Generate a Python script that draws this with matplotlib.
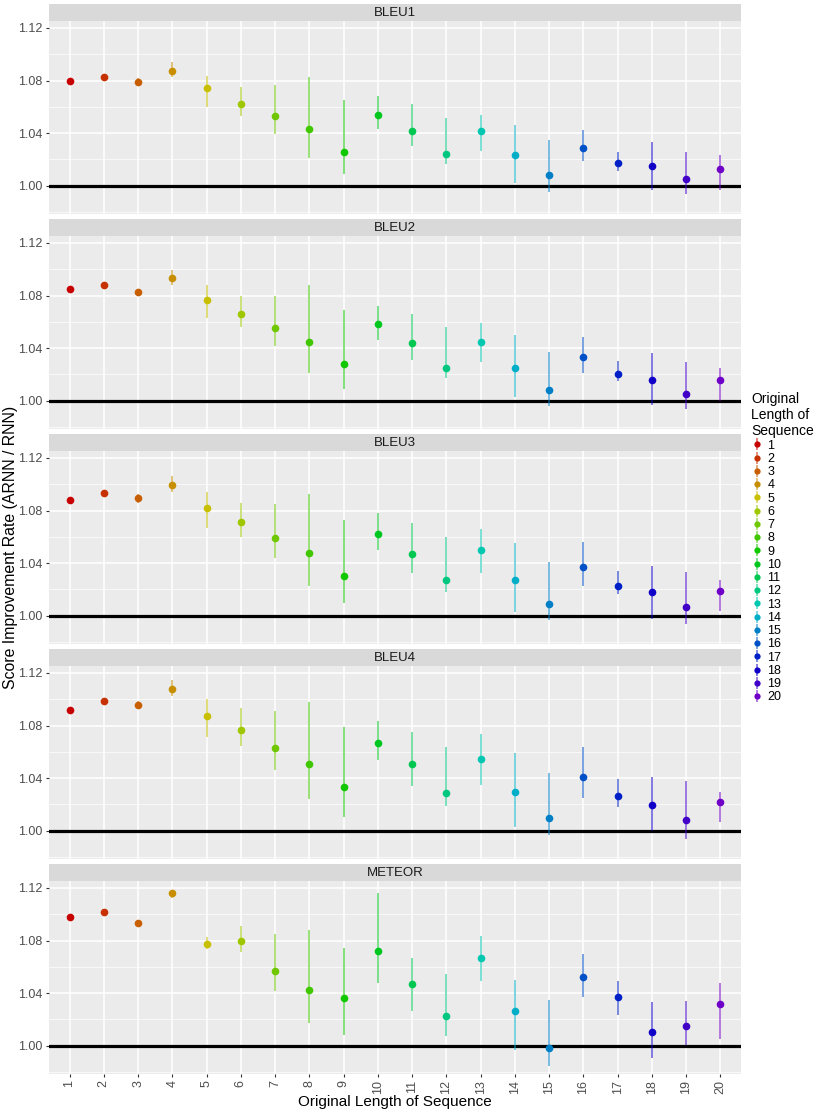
#!/usr/bin/env python3

import numpy as np
import matplotlib
matplotlib.use("Agg")
import matplotlib.pyplot as plt
from matplotlib.colors import hsv_to_rgb
from matplotlib.lines import Line2D
from matplotlib.legend_handler import HandlerTuple

lengths = list(range(1, 21))
metrics = ["BLEU1", "BLEU2", "BLEU3", "BLEU4", "METEOR"]

# mean improvement rate per original length
bleu1_mean = [1.080, 1.083, 1.079, 1.0875, 1.074, 1.062, 1.053, 1.043, 1.026, 1.054,
              1.042, 1.024, 1.042, 1.023, 1.008, 1.029, 1.0175, 1.015, 1.005, 1.013]
bleu1_lo = [1.080, 1.083, 1.0755, 1.083, 1.060, 1.053, 1.039, 1.021, 1.0086, 1.0435,
            1.030, 1.0165, 1.0267, 1.002, 0.9954, 1.019, 1.0114, 0.9967, 0.9936, 0.9967]
bleu1_hi = [1.080, 1.083, 1.0816, 1.0938, 1.0837, 1.075, 1.0763, 1.0826, 1.0654, 1.0681,
            1.0623, 1.0514, 1.0539, 1.0463, 1.0348, 1.0425, 1.0257, 1.0331, 1.0259, 1.0234]

bleu2_mean = [1.085, 1.088, 1.083, 1.093, 1.077, 1.066, 1.0556, 1.045, 1.028, 1.058,
              1.044, 1.025, 1.045, 1.025, 1.0084, 1.033, 1.020, 1.016, 1.0053, 1.016]
bleu2_lo = [1.085, 1.088, 1.081, 1.0878, 1.063, 1.0563, 1.0414, 1.0213, 1.0086, 1.0464,
            1.031, 1.017, 1.0292, 1.0025, 0.9962, 1.021, 1.015, 0.9967, 0.9937, 1.000]
bleu2_hi = [1.085, 1.088, 1.085, 1.0997, 1.0883, 1.0797, 1.0799, 1.0878, 1.0693, 1.0723,
            1.066, 1.0558, 1.0591, 1.0502, 1.0368, 1.0487, 1.0299, 1.036, 1.0292, 1.0249]

bleu3_mean = [1.0883, 1.0934, 1.0893, 1.0994, 1.0817, 1.071, 1.0589, 1.0474, 1.030, 1.0622,
              1.0472, 1.0271, 1.0497, 1.0269, 1.0091, 1.0368, 1.0228, 1.0178, 1.0068, 1.0185]
bleu3_lo = [1.0883, 1.0934, 1.0857, 1.0944, 1.0667, 1.0599, 1.0436, 1.0226, 1.0094, 1.050,
            1.0325, 1.0183, 1.0322, 1.0025, 0.9967, 1.0228, 1.0165, 0.9975, 0.9937, 1.0038]
bleu3_hi = [1.0883, 1.0934, 1.0926, 1.1065, 1.0939, 1.0857, 1.085, 1.0923, 1.0731, 1.0779,
            1.0703, 1.0601, 1.066, 1.055, 1.0406, 1.0558, 1.0342, 1.038, 1.0335, 1.0271]

bleu4_mean = [1.0921, 1.0984, 1.0956, 1.1076, 1.0875, 1.0766, 1.0629, 1.0505, 1.033, 1.067,
              1.0505, 1.0289, 1.0543, 1.0292, 1.0099, 1.0411, 1.0261, 1.0198, 1.0081, 1.0216]
bleu4_lo = [1.0921, 1.0984, 1.0931, 1.1025, 1.071, 1.0642, 1.0462, 1.0238, 1.0101, 1.0535,
            1.0342, 1.0188, 1.0345, 1.0025, 0.9967, 1.0246, 1.018, 1.000, 0.9937, 1.0068]
bleu4_hi = [1.0921, 1.0984, 1.0989, 1.1147, 1.1002, 1.0931, 1.091, 1.0977, 1.0786, 1.0837,
            1.0748, 1.0639, 1.0738, 1.0591, 1.0439, 1.0634, 1.039, 1.0406, 1.038, 1.0292]

meteor_mean = [1.0977, 1.1015, 1.0936, 1.1164, 1.0774, 1.0797, 1.0571, 1.0421, 1.0363, 1.0718,
               1.0472, 1.0223, 1.067, 1.0261, 0.998, 1.052, 1.0368, 1.0107, 1.015, 1.032]
meteor_lo = [1.0977, 1.1015, 1.0936, 1.1124, 1.0736, 1.071, 1.0414, 1.0172, 1.0084, 1.0477,
             1.0266, 1.0076, 1.0492, 0.9967, 0.9848, 1.0373, 1.0233, 0.9906, 1.0005, 1.0051]
meteor_hi = [1.0977, 1.1015, 1.0936, 1.1185, 1.0824, 1.0908, 1.085, 1.088, 1.0746, 1.1164,
             1.0667, 1.0545, 1.0837, 1.0502, 1.035, 1.0695, 1.0495, 1.033, 1.034, 1.0474]

means = [bleu1_mean, bleu2_mean, bleu3_mean, bleu4_mean, meteor_mean]
lows = [bleu1_lo, bleu2_lo, bleu3_lo, bleu4_lo, meteor_lo]
highs = [bleu1_hi, bleu2_hi, bleu3_hi, bleu4_hi, meteor_hi]

if __name__ == "__main__":
    W, H = 830, 1114
    fig = plt.figure(figsize=(W / 100, H / 100), dpi=100)
    plt.rcParams["font.family"] = "Liberation Sans"

    # rainbow palette, red -> purple
    colours = [hsv_to_rgb((0.04 * i, 1.0, 0.78)) for i in range(20)]

    left, right = 49, 741
    for k, name in enumerate(metrics):
        strip_top = 4 + k * 215
        strip_bot = 21 + k * 215
        plot_bot = 214 + k * 215

        ax = fig.add_axes([left / W, 1 - plot_bot / H, (right - left) / W,
                           (plot_bot - strip_bot) / H])
        strip = fig.add_axes([left / W, 1 - strip_bot / H, (right - left) / W,
                              (strip_bot - strip_top) / H])
        strip.set_facecolor("#D9D9D9")
        strip.set_xticks([])
        strip.set_yticks([])
        for s in strip.spines.values():
            s.set_visible(False)
        strip.text(0.5, 0.45, name, ha="center", va="center", fontsize=9.5,
                   color="#1A1A1A", transform=strip.transAxes)

        ax.set_facecolor("#EBEBEB")
        for s in ax.spines.values():
            s.set_visible(False)
        ax.set_xlim(0.4, 20.6)
        ax.set_ylim(0.9785, 1.1253)
        ax.set_yticks([1.00, 1.04, 1.08, 1.12])
        ax.set_yticklabels(["1.00", "1.04", "1.08", "1.12"])
        ax.set_yticks([0.98, 1.02, 1.06, 1.10], minor=True)
        ax.set_xticks(lengths)
        ax.grid(True, which="major", color="white", lw=1.1)
        ax.grid(True, which="minor", axis="y", color="white", lw=0.5)
        ax.set_axisbelow(True)
        ax.tick_params(axis="both", which="major", length=2.5, color="#333333",
                       labelsize=9, labelcolor="#4D4D4D", pad=2)
        ax.tick_params(axis="y", which="minor", length=0)
        if k < len(metrics) - 1:
            ax.tick_params(axis="x", labelbottom=False, length=0)
        else:
            ax.set_xticklabels([str(v) for v in lengths], rotation=90)

        ax.axhline(1.0, color="black", lw=2.3, zorder=2)

        for i, x in enumerate(lengths):
            ax.plot([x, x], [lows[k][i], highs[k][i]], color=colours[i],
                    lw=1.2, alpha=0.6, solid_capstyle="butt", zorder=3)
            ax.plot(x, means[k][i], "o", color=colours[i], ms=5.5, mew=0, zorder=4)

    fig.text(0.013, 1 - 547 / H, "Score Improvement Rate (ARNN / RNN)",
             rotation=90, ha="center", va="center", fontsize=11.4)
    fig.text((left + right) / 2 / W, 1 - 1102 / H, "Original Length of Sequence",
             ha="center", va="center", fontsize=11)

    handles = []
    for i in range(20):
        bar = Line2D([], [], color=colours[i], marker="|", ms=9, mew=1.2,
                     alpha=0.6, linestyle="none")
        dot = Line2D([], [], color=colours[i], marker="o", ms=4.5, mew=0,
                     linestyle="none")
        handles.append((bar, dot))
    leg = fig.legend(handles, [str(v) for v in lengths],
                     handler_map={tuple: HandlerTuple(ndivide=1)},
                     loc="upper left", bbox_to_anchor=(751 / W, 1 - 392 / H),
                     frameon=False, fontsize=9, title="Original\nLength of\nSequence",
                     title_fontsize=10, handlelength=0.9, handletextpad=0.4,
                     labelspacing=0.1, borderpad=0, borderaxespad=0)
    leg._legend_box.align = "left"

    fig.savefig("out.png", dpi=100)
